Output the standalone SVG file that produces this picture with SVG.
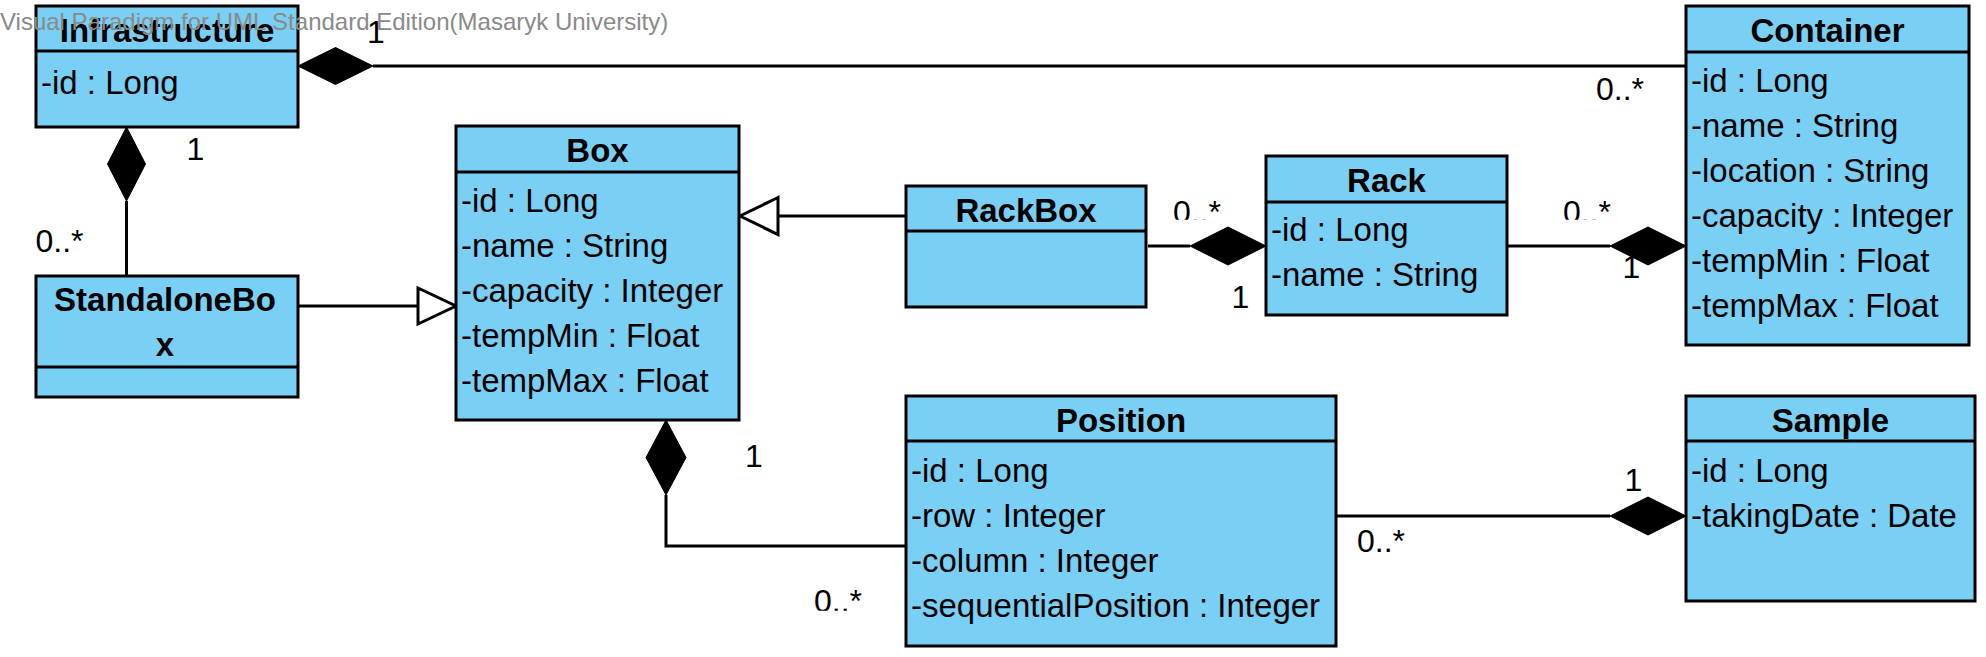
<svg xmlns="http://www.w3.org/2000/svg" width="1986" height="657" viewBox="0 0 1986 657">
<style>
.cls{fill:#7acff5;stroke:#000;stroke-width:3}
.div{stroke:#000;stroke-width:3}
.t{font-family:"Liberation Sans",Arial,sans-serif;font-size:33px;font-weight:bold;fill:#000;text-anchor:middle}
.a{font-family:"Liberation Sans",Arial,sans-serif;font-size:33px;fill:#000}
.lbl{font-family:"Liberation Sans",Arial,sans-serif;font-size:32px;fill:#000}
.ln{fill:none;stroke:#000;stroke-width:3}
.dia{fill:#000;stroke:#000;stroke-width:1}
.tri{fill:#fff;stroke:#000;stroke-width:3}
.wm{font-family:"Liberation Sans",Arial,sans-serif;font-size:24px;fill:#8a8a8a}
</style>
<defs>
<clipPath id="c1"><rect x="1160" y="190" width="80" height="29.8"/></clipPath>
<clipPath id="c2"><rect x="1550" y="190" width="80" height="29.8"/></clipPath>
<clipPath id="c3"><rect x="800" y="580" width="80" height="30.8"/></clipPath>
</defs>
<rect width="1986" height="657" fill="#fff"/>

<g id="connectors">
  <!-- Infrastructure - Container -->
  <line class="ln" x1="373" y1="66" x2="1686" y2="66"/>
  <polygon class="dia" points="298,66 335.5,47.5 373,66 335.5,84.5"/>
  <text class="lbl" x="367" y="43">1</text>
  <text class="lbl" x="1596" y="100">0..*</text>
  <!-- Infrastructure - StandaloneBox -->
  <line class="ln" x1="126.5" y1="201" x2="126.5" y2="276"/>
  <polygon class="dia" points="126.5,127 145.5,164 126.5,201 107.5,164"/>
  <text class="lbl" x="186.5" y="160">1</text>
  <text class="lbl" x="35.5" y="252">0..*</text>
  <!-- StandaloneBox -> Box -->
  <line class="ln" x1="299" y1="306" x2="418" y2="306"/>
  <polygon class="tri" points="418,288 456,306 418,324"/>
  <!-- RackBox -> Box -->
  <line class="ln" x1="906" y1="216" x2="778" y2="216"/>
  <polygon class="tri" points="778,197.5 740,216 778,234.5"/>
  <!-- RackBox - Rack -->
  <line class="ln" x1="1148" y1="246" x2="1190" y2="246"/>
  <polygon class="dia" points="1190,246 1228,227 1266,246 1228,265"/>
  <text class="lbl" x="1173" y="223" clip-path="url(#c1)">0..*</text>
  <text class="lbl" x="1231.5" y="308">1</text>
  <!-- Rack - Container -->
  <line class="ln" x1="1508" y1="246" x2="1610" y2="246"/>
  <polygon class="dia" points="1610,246 1648,227 1686,246 1648,265"/>
  <text class="lbl" x="1563" y="223" clip-path="url(#c2)">0..*</text>
  <text class="lbl" x="1622.5" y="278">1</text>
  <!-- Box - Position -->
  <polyline class="ln" points="666,495 666,546 906,546"/>
  <polygon class="dia" points="666,420 686,457.5 666,495 646,457.5"/>
  <text class="lbl" x="745" y="467">1</text>
  <text class="lbl" x="814" y="612" clip-path="url(#c3)">0..*</text>
  <!-- Position - Sample -->
  <line class="ln" x1="1337" y1="516" x2="1610" y2="516"/>
  <polygon class="dia" points="1610,516 1648,497 1686,516 1648,535"/>
  <text class="lbl" x="1624.5" y="491">1</text>
  <text class="lbl" x="1357" y="552">0..*</text>
</g>

<g id="Infrastructure">
  <rect class="cls" x="36" y="6" width="262" height="121"/>
  <line class="div" x1="36" y1="51" x2="298" y2="51"/>
  <text class="t" x="167" y="42">Infrastructure</text>
  <text class="a" x="41" y="94">-id : Long</text>
</g>

<g id="StandaloneBox">
  <rect class="cls" x="36" y="276" width="262" height="121"/>
  <line class="div" x1="36" y1="367" x2="298" y2="367"/>
  <text class="t" x="165" y="311">StandaloneBo</text>
  <text class="t" x="165" y="356">x</text>
</g>

<g id="Box">
  <rect class="cls" x="456" y="126" width="283" height="294"/>
  <line class="div" x1="456" y1="172" x2="739" y2="172"/>
  <text class="t" x="597.5" y="162">Box</text>
  <text class="a" x="461" y="212">-id : Long</text>
  <text class="a" x="461" y="257">-name : String</text>
  <text class="a" x="461" y="302">-capacity : Integer</text>
  <text class="a" x="461" y="347">-tempMin : Float</text>
  <text class="a" x="461" y="392">-tempMax : Float</text>
</g>

<g id="RackBox">
  <rect class="cls" x="906" y="186" width="240" height="121"/>
  <line class="div" x1="906" y1="231" x2="1146" y2="231"/>
  <text class="t" x="1026" y="222">RackBox</text>
</g>

<g id="Rack">
  <rect class="cls" x="1266" y="156" width="241" height="159"/>
  <line class="div" x1="1266" y1="202" x2="1507" y2="202"/>
  <text class="t" x="1386.5" y="192">Rack</text>
  <text class="a" x="1271" y="241">-id : Long</text>
  <text class="a" x="1271" y="286">-name : String</text>
</g>

<g id="Container">
  <rect class="cls" x="1686" y="6" width="283" height="339"/>
  <line class="div" x1="1686" y1="52" x2="1969" y2="52"/>
  <text class="t" x="1827.5" y="42">Container</text>
  <text class="a" x="1691" y="92">-id : Long</text>
  <text class="a" x="1691" y="137">-name : String</text>
  <text class="a" x="1691" y="182">-location : String</text>
  <text class="a" x="1691" y="227">-capacity : Integer</text>
  <text class="a" x="1691" y="272">-tempMin : Float</text>
  <text class="a" x="1691" y="317">-tempMax : Float</text>
</g>

<g id="Position">
  <rect class="cls" x="906" y="396" width="430" height="250"/>
  <line class="div" x1="906" y1="441" x2="1336" y2="441"/>
  <text class="t" x="1121" y="432">Position</text>
  <text class="a" x="911" y="482">-id : Long</text>
  <text class="a" x="911" y="527">-row : Integer</text>
  <text class="a" x="911" y="572">-column : Integer</text>
  <text class="a" x="911" y="617">-sequentialPosition : Integer</text>
</g>

<g id="Sample">
  <rect class="cls" x="1686" y="396" width="289" height="205"/>
  <line class="div" x1="1686" y1="441" x2="1975" y2="441"/>
  <text class="t" x="1830.5" y="432">Sample</text>
  <text class="a" x="1691" y="482">-id : Long</text>
  <text class="a" x="1691" y="527">-takingDate : Date</text>
</g>

<text class="wm" x="0" y="30">Visual Paradigm for UML Standard Edition(Masaryk University)</text>
</svg>
